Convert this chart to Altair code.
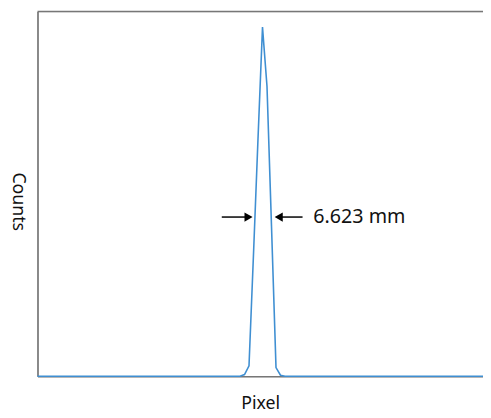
import altair as alt
import pandas as pd

# profile data (pixel index vs counts)
pixels = list(range(0, 100))
peak_idx = [46, 47, 48, 49, 50, 51, 52, 53, 54]
peak_vals = [5, 30, 350, 680, 1000, 830, 430, 25, 3]
counts = [0] * 100
for i, v in zip(peak_idx, peak_vals):
    counts[i] = v

# annotation
fwhm_label = "6.623 mm"
arrow_y = 456
left_shaft = [40.95, 46.9]
right_shaft = [53.6, 58.9]
left_head_x = 46.9
right_head_x = 53.6
label_x = 61.3

df = pd.DataFrame({"Pixel": pixels, "Counts": counts})

W, H = 453, 371
xs = alt.Scale(domain=[0, 99], nice=False, zero=False)
ys = alt.Scale(domain=[0, 1045], nice=False)

line = alt.Chart(df).mark_line(color="#3f8fd2", strokeWidth=1.6).encode(
    x=alt.X("Pixel:Q", scale=xs,
            axis=alt.Axis(title="Pixel", labels=False, ticks=False, grid=False,
                          domainColor="#777777", domainWidth=1.5,
                          titleFont="Noto Sans", titleFontSize=18,
                          titleFontWeight="normal", titleColor="#111111",
                          titlePadding=19)),
    y=alt.Y("Counts:Q", scale=ys,
            axis=alt.Axis(title="Counts", labels=False, ticks=False, grid=False,
                          domainColor="#666666", domainWidth=1.5,
                          titleFont="Noto Sans", titleFontSize=18,
                          titleFontWeight="normal", titleColor="#111111",
                          titleAngle=90, titleBaseline="top", titleY=193,
                          titlePadding=11)),
)

shafts = alt.Chart(pd.DataFrame({
    "x": [left_shaft[0], right_shaft[0]],
    "x2": [left_shaft[1], right_shaft[1]],
    "y": [arrow_y, arrow_y],
})).mark_rule(color="black", strokeWidth=1.5).encode(
    x=alt.X("x:Q", scale=xs), x2="x2:Q", y=alt.Y("y:Q", scale=ys)
)

heads = alt.Chart(pd.DataFrame({
    "x": [left_head_x, right_head_x],
    "y": [arrow_y, arrow_y],
    "shape": ["triangle-right", "triangle-left"],
})).mark_point(filled=True, color="black", size=90, opacity=1).encode(
    x=alt.X("x:Q", scale=xs), y=alt.Y("y:Q", scale=ys),
    shape=alt.Shape("shape:N", scale=None, legend=None),
)

label = alt.Chart(pd.DataFrame({"x": [label_x], "y": [arrow_y], "t": [fwhm_label]})).mark_text(
    align="left", baseline="middle", font="Noto Sans", fontSize=20, color="#111111"
).encode(x=alt.X("x:Q", scale=xs), y=alt.Y("y:Q", scale=ys), text="t:N")

top = alt.Chart(pd.DataFrame({"a": [0]})).mark_rule(color="#777777", strokeWidth=1.5).encode(
    x=alt.value(0), x2=alt.value(W), y=alt.value(0)
)

chart = alt.layer(line, top, shafts, heads, label).properties(
    width=W, height=H,
    autosize=alt.AutoSizeParams(type="none"),
    padding={"left": 30, "top": 0, "right": 0, "bottom": 40},
).configure_view(stroke=None).configure(background="white")

chart.save("out.html", embed_options={"renderer": "svg", "actions": False})
